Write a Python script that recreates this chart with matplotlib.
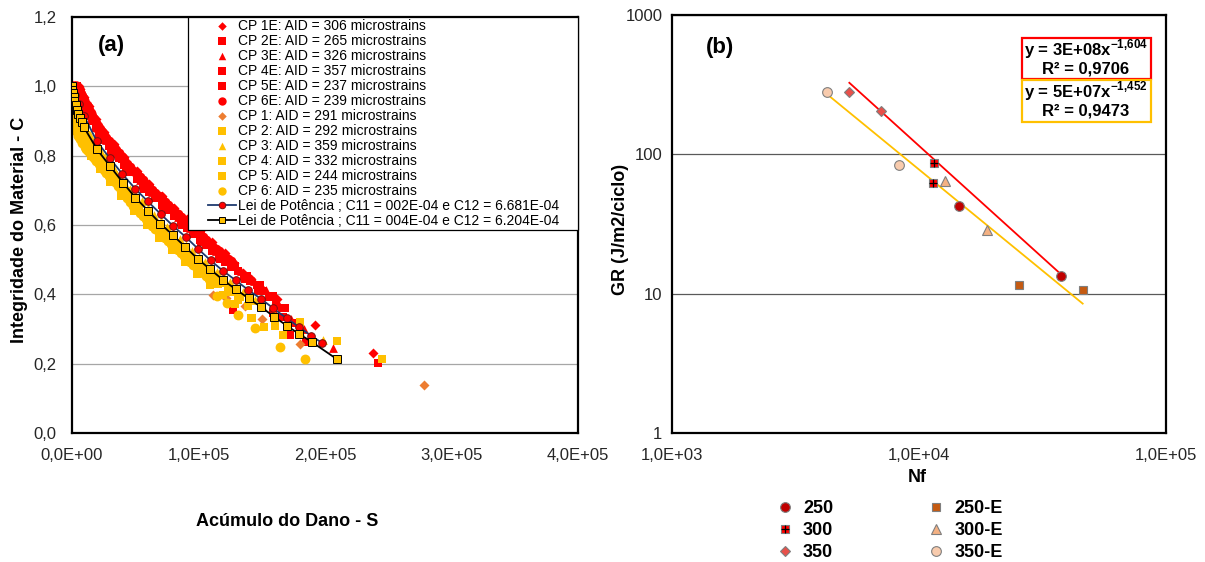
import numpy as np
import matplotlib.pyplot as plt
from matplotlib.lines import Line2D
from matplotlib.patches import Rectangle
from matplotlib.legend_handler import HandlerTuple
from matplotlib.ticker import FixedLocator, FuncFormatter, NullLocator

plt.rcParams['font.family'] = ['Liberation Sans', 'DejaVu Sans']
plt.rcParams['mathtext.fontset'] = 'custom'
plt.rcParams['mathtext.rm'] = 'Liberation Sans'
plt.rcParams['mathtext.bf'] = 'Liberation Sans:bold'

# ---------------- (a) dano acumulado x integridade ----------------
S_cp1e = [0, 2300, 4200, 6500, 9600, 13500, 19000, 25500, 33000, 41500, 51000, 61000, 71000, 81000,
          91000, 101000, 111000, 121000, 128000, 134900, 141300, 148900, 161800, 192100, 238200]
C_cp1e = [1.000, 1.000, 1.000, 0.993, 0.970, 0.942, 0.905, 0.869, 0.834, 0.797, 0.757, 0.719, 0.684, 0.650,
          0.616, 0.583, 0.550, 0.519, 0.490, 0.461, 0.444, 0.422, 0.387, 0.312, 0.230]
S_cp2e = [0, 1500, 3200, 4200, 5300, 6600, 8000, 9700, 11500, 13700, 16000, 19000, 22000, 25500, 29000,
          33000, 37000, 41500, 46000, 51000, 56000, 61000, 66000, 71000, 76000, 81000, 86000, 91000, 96000,
          101000, 106000, 111000, 116000, 121000, 126000, 131000, 136000, 141000, 146000, 151000, 156000,
          161000, 166000, 242100]
C_cp2e = [1.000, 1.000, 0.995, 0.990, 0.980, 0.969, 0.958, 0.944, 0.931, 0.916, 0.900, 0.880, 0.862, 0.844,
          0.827, 0.809, 0.792, 0.772, 0.753, 0.732, 0.714, 0.694, 0.677, 0.659, 0.642, 0.625, 0.608, 0.591,
          0.575, 0.558, 0.541, 0.525, 0.509, 0.494, 0.480, 0.466, 0.452, 0.439, 0.426, 0.410, 0.392, 0.377,
          0.362, 0.203]
S_cp3e = [500, 2800, 5800, 9000, 14500, 20500, 27000, 35000, 43500, 53500, 63500, 73500, 83500, 93500,
          103500, 113500, 123500, 133500, 143500, 153500, 163500, 173500, 183500, 206600]
C_cp3e = [1.000, 1.000, 0.985, 0.958, 0.917, 0.879, 0.845, 0.808, 0.771, 0.731, 0.694, 0.658, 0.624, 0.590,
          0.558, 0.526, 0.495, 0.466, 0.439, 0.413, 0.370, 0.330, 0.300, 0.245]
S_cp4e = [2000, 6000, 12500, 21000, 31000, 43000, 57000, 72000, 87000, 102000, 117000, 127500, 137000,
          147000, 159200, 167000, 172700, 180000, 185300]
C_cp4e = [1.000, 0.969, 0.920, 0.862, 0.813, 0.761, 0.705, 0.651, 0.600, 0.550, 0.501, 0.355, 0.445,
          0.410, 0.345, 0.335, 0.283, 0.292, 0.263]
S_cp5e = [300, 3600, 7200, 12500, 17500, 24000, 31000, 39500, 48500, 58500, 68500, 78500, 88500, 98500,
          108500, 118500, 128500, 138500, 148500, 158500, 168500, 176000]
C_cp5e = [1.000, 1.000, 0.975, 0.935, 0.902, 0.862, 0.826, 0.791, 0.754, 0.714, 0.678, 0.644, 0.610, 0.576,
          0.543, 0.512, 0.482, 0.454, 0.427, 0.395, 0.360, 0.318]
S_cp6e = [0, 800, 1500, 2300, 3200, 4200, 5300, 5900, 6500, 7200, 8000, 8800, 9600, 10500, 11500, 12500,
          13500, 14700, 16000, 17500, 19000, 20500, 22000, 23700, 25500, 27200, 29000, 31000, 33000, 35000,
          37000, 39200, 41500, 43700, 46000, 48500, 51000, 53500, 56000, 58500, 61000, 63500, 66000, 68500,
          71000, 73500, 76000, 78500, 81000, 83500, 86000, 88500, 91000, 93500, 96000, 98500, 101000,
          103500, 106000, 108500, 111000, 113500, 116000, 118500, 121000, 123500, 126000]
C_cp6e = [1.000, 1.000, 1.000, 1.000, 1.000, 1.000, 0.995, 0.990, 0.985, 0.979, 0.973, 0.966, 0.960, 0.953,
          0.946, 0.939, 0.932, 0.924, 0.915, 0.905, 0.895, 0.886, 0.877, 0.868, 0.859, 0.850, 0.842, 0.833,
          0.824, 0.815, 0.807, 0.797, 0.787, 0.777, 0.768, 0.757, 0.747, 0.738, 0.729, 0.719, 0.709, 0.700,
          0.692, 0.683, 0.674, 0.665, 0.657, 0.648, 0.640, 0.631, 0.623, 0.614, 0.606, 0.598, 0.590, 0.581,
          0.573, 0.564, 0.556, 0.548, 0.540, 0.532, 0.524, 0.516, 0.509, 0.502, 0.495]

S_cp1 = [2000, 8000, 16000, 26000, 38000, 52000, 66000, 80000, 94000, 108000, 111700, 122000, 136600,
         150000, 180300, 278300]
C_cp1 = [0.934, 0.873, 0.819, 0.768, 0.712, 0.651, 0.599, 0.550, 0.501, 0.456, 0.398, 0.390, 0.365,
         0.330, 0.257, 0.139]
S_cp2 = [0, 400, 1000, 1800, 2800, 4000, 5400, 7000, 8800, 11000, 13500, 16500, 20000, 24000, 28500,
         33000, 38000, 43000, 48000, 53000, 58000, 63000, 68000, 73000, 78000, 83000, 88000, 93000, 98000,
         103000, 108000, 113000, 118000, 123000, 128000, 133000, 142100, 245200]
C_cp2 = [0.988, 0.975, 0.961, 0.947, 0.933, 0.919, 0.905, 0.890, 0.875, 0.859, 0.843, 0.824, 0.805, 0.785,
         0.764, 0.744, 0.720, 0.698, 0.676, 0.655, 0.636, 0.618, 0.599, 0.582, 0.565, 0.547, 0.530, 0.513,
         0.496, 0.480, 0.464, 0.449, 0.434, 0.420, 0.406, 0.393, 0.331, 0.213]
S_cp3 = [600, 2000, 4000, 6600, 9800, 14000, 19500, 22700, 26000, 29700, 33500, 37500, 41500, 46000,
         50500, 55000, 60000, 65000, 70000, 75000, 80000, 85000, 90000, 95000, 100000, 105000, 110000,
         115000, 120000, 125000, 130000, 135000, 140000, 145000, 150000, 160000, 170000, 180000, 190000,
         198800]
C_cp3 = [0.990, 0.964, 0.939, 0.913, 0.888, 0.860, 0.828, 0.811, 0.796, 0.779, 0.762, 0.742, 0.724, 0.705,
         0.685, 0.668, 0.649, 0.630, 0.612, 0.595, 0.578, 0.560, 0.543, 0.526, 0.509, 0.494, 0.478, 0.463,
         0.448, 0.435, 0.421, 0.408, 0.396, 0.383, 0.370, 0.343, 0.317, 0.293, 0.270, 0.269]
S_cp4 = [1500, 5000, 9500, 15000, 22000, 30000, 39000, 49000, 59000, 69000, 79000, 89000, 99000, 109000,
         119000, 129000, 141700, 151700, 160500, 180200]
C_cp4 = [0.917, 0.876, 0.837, 0.800, 0.762, 0.725, 0.683, 0.639, 0.600, 0.563, 0.528, 0.494, 0.459, 0.428,
         0.398, 0.371, 0.333, 0.307, 0.309, 0.321]
S_cp5 = [200, 1200, 2500, 4500, 7200, 10500, 14500, 19000, 24500, 30500, 37000, 44000, 51500, 59500,
         67500, 75500, 83500, 91500, 99500, 107500, 115500, 123500, 131500, 139000, 167000, 209200]
C_cp5 = [0.968, 0.944, 0.924, 0.901, 0.875, 0.849, 0.823, 0.797, 0.770, 0.742, 0.712, 0.680, 0.648, 0.618,
         0.588, 0.560, 0.532, 0.505, 0.477, 0.453, 0.429, 0.406, 0.384, 0.365, 0.283, 0.266]
S_cp6 = [0, 0, 300, 900, 1800, 3000, 4500, 6200, 8000, 10000, 11200, 12500, 14000, 15500, 17200, 19000,
         21000, 23000, 25000, 27000, 29200, 31500, 33700, 36000, 38500, 41000, 43500, 46000, 48500, 51000,
         53500, 56000, 58500, 61000, 63500, 66000, 68500, 71000, 73500, 76000, 78500, 81000, 83500, 86000,
         88500, 91000, 93500, 96000, 98500, 101000, 103500, 106000, 108500, 111000, 114400, 122300, 131500,
         144700, 164400, 184200]
C_cp6 = [0.960, 0.935, 0.915, 0.898, 0.883, 0.870, 0.858, 0.847, 0.836, 0.826, 0.820, 0.813, 0.807, 0.800,
         0.793, 0.785, 0.777, 0.768, 0.760, 0.751, 0.742, 0.733, 0.723, 0.712, 0.701, 0.689, 0.678, 0.667,
         0.656, 0.645, 0.636, 0.626, 0.617, 0.607, 0.598, 0.589, 0.580, 0.571, 0.563, 0.554, 0.545, 0.536,
         0.528, 0.519, 0.511, 0.502, 0.494, 0.485, 0.477, 0.468, 0.461, 0.453, 0.445, 0.437, 0.396, 0.374,
         0.341, 0.302, 0.249, 0.213]

S_lei1 = [0, 2500, 5500, 9500, 19700, 30000, 39800, 49900, 59900, 70000, 80000, 90000, 99700, 109500,
          119600, 129600, 139500, 149400, 159000, 169600, 179400, 189100, 197300]
C_lei1 = [1.000, 0.975, 0.948, 0.915, 0.841, 0.792, 0.747, 0.705, 0.668, 0.632, 0.597, 0.565, 0.531, 0.498,
          0.467, 0.440, 0.412, 0.387, 0.360, 0.331, 0.306, 0.280, 0.261]
S_lei2 = [0, 300, 700, 1200, 1900, 2800, 3900, 5100, 6300, 7700, 9300, 19800, 30200, 40300, 50100, 60200,
          69900, 79900, 89500, 99500, 109300, 119600, 129600, 139800, 149600, 159600, 169600, 179400,
          189400, 209400]
C_lei2 = [1.000, 0.990, 0.980, 0.969, 0.957, 0.945, 0.932, 0.920, 0.908, 0.896, 0.883, 0.818, 0.769, 0.722,
          0.679, 0.641, 0.604, 0.570, 0.537, 0.502, 0.472, 0.441, 0.414, 0.388, 0.363, 0.336, 0.310, 0.286,
          0.263, 0.213]

# ---------------- (b) Nf x GR ----------------
Nf_250, GR_250 = [14560, 37470], [42.5, 13.3]
Nf_300, GR_300 = [11530, 11360], [87.2, 61.9]
Nf_350, GR_350 = [5224, 7015], [280, 204]
Nf_250E, GR_250E = [25330, 46000], [11.6, 10.7]
Nf_300E, GR_300E = [12740, 18790], [64.3, 28.5]
Nf_350E, GR_350E = [4227, 8318], [278, 83.8]
fit_lab = (3e8, -1.604, 0.9706)
fit_e = (5e7, -1.452, 0.9473)

RED, YEL, ORA = '#FF0000', '#FFC000', '#ED7D31'

W, H = 1205, 562
fig = plt.figure(figsize=(W / 100, H / 100), dpi=100)


def fx(px):
    return px / W


def fy(py):
    return 1 - py / H


ax1 = fig.add_axes([fx(72), fy(433), (578 - 72) / W, (433 - 17) / H])
ax2 = fig.add_axes([fx(672), fy(433), (1166 - 672) / W, (433 - 15) / H])

# --- panel a
scat = [
    (S_cp1e, C_cp1e, 'D', RED, 26, 'CP 1E: AID = 306 microstrains'),
    (S_cp2e, C_cp2e, 's', RED, 38, 'CP 2E: AID = 265 microstrains'),
    (S_cp3e, C_cp3e, '^', RED, 40, 'CP 3E: AID = 326 microstrains'),
    (S_cp4e, C_cp4e, 's', RED, 38, 'CP 4E: AID = 357 microstrains'),
    (S_cp5e, C_cp5e, 's', RED, 38, 'CP 5E: AID = 237 microstrains'),
    (S_cp6e, C_cp6e, 'o', RED, 50, 'CP 6E: AID = 239 microstrains'),
    (S_cp1, C_cp1, 'D', ORA, 26, 'CP 1: AID = 291 microstrains'),
    (S_cp2, C_cp2, 's', YEL, 38, 'CP 2: AID = 292 microstrains'),
    (S_cp3, C_cp3, '^', YEL, 40, 'CP 3: AID = 359 microstrains'),
    (S_cp4, C_cp4, 's', YEL, 38, 'CP 4: AID = 332 microstrains'),
    (S_cp5, C_cp5, 's', YEL, 38, 'CP 5: AID = 244 microstrains'),
    (S_cp6, C_cp6, 'o', YEL, 50, 'CP 6: AID = 235 microstrains'),
]
for S, C, mk, col, sz, lab in scat:
    ax1.scatter(S, C, marker=mk, s=sz, c=col, linewidths=0, label=lab, zorder=2)

ax1.plot(S_lei1, C_lei1, color='#1F3A6E', lw=1.3, marker='o', ms=5.5, mfc=RED, mec='#7A1010',
         mew=0.7, zorder=3, label='Lei de Potência ; C11 = 002E-04 e C12 = 6.681E-04')
ax1.plot(S_lei2, C_lei2, color='black', lw=1.3, marker='s', ms=5.2, mfc=YEL, mec='black',
         mew=0.7, zorder=3, label='Lei de Potência ; C11 = 004E-04 e C12 = 6.204E-04')

ax1.set_xlim(0, 4e5)
ax1.set_ylim(0, 1.2)
ax1.xaxis.set_major_locator(FixedLocator([0, 1e5, 2e5, 3e5, 4e5]))
ax1.yaxis.set_major_locator(FixedLocator(np.arange(0, 1.21, 0.2)))
ax1.xaxis.set_major_formatter(FuncFormatter(lambda v, p: f'{v:.1E}'.replace('.', ',')))
ax1.yaxis.set_major_formatter(FuncFormatter(lambda v, p: f'{v:.1f}'.replace('.', ',')))
ax1.yaxis.grid(True, color='#A6A6A6', lw=0.9)
ax1.set_axisbelow(True)

# --- panel b
for nf, gr, mk, fc, ms in [(Nf_250, GR_250, 'o', '#C00000', 7.0),
                           (Nf_300, GR_300, 's', RED, 6.3),
                           (Nf_350, GR_350, 'D', '#E8504A', 5.2),
                           (Nf_250E, GR_250E, 's', '#C55A11', 6.3),
                           (Nf_300E, GR_300E, '^', '#F4B183', 7.0),
                           (Nf_350E, GR_350E, 'o', '#F8CBAD', 7.0)]:
    ax2.plot(nf, gr, ls='none', marker=mk, ms=ms, mfc=fc, mec='#7F7F7F', mew=0.8, zorder=4)
ax2.plot(Nf_300, GR_300, ls='none', marker='+', ms=6.3, mec='black', mew=0.9, zorder=5)

nf_a = np.geomspace(min(Nf_250 + Nf_300 + Nf_350), max(Nf_250 + Nf_300 + Nf_350), 50)
nf_e = np.geomspace(min(Nf_250E + Nf_300E + Nf_350E), max(Nf_250E + Nf_300E + Nf_350E), 50)
ax2.plot(nf_a, fit_lab[0] * nf_a ** fit_lab[1], color=RED, lw=1.3, zorder=3)
ax2.plot(nf_e, fit_e[0] * nf_e ** fit_e[1], color=YEL, lw=1.3, zorder=3)

ax2.set_xscale('log')
ax2.set_yscale('log')
ax2.set_xlim(1e3, 1e5)
ax2.set_ylim(1, 1000)
ax2.xaxis.set_major_locator(FixedLocator([1e3, 1e4, 1e5]))
ax2.yaxis.set_major_locator(FixedLocator([1, 10, 100, 1000]))
ax2.xaxis.set_minor_locator(NullLocator())
ax2.yaxis.set_minor_locator(NullLocator())
ax2.xaxis.set_major_formatter(FuncFormatter(lambda v, p: f'{v:.1E}'.replace('.', ',')))
ax2.yaxis.set_major_formatter(FuncFormatter(lambda v, p: f'{v:g}'))
ax2.yaxis.grid(True, color='#595959', lw=0.9)
ax2.set_axisbelow(True)

for ax in (ax1, ax2):
    for sp in ax.spines.values():
        sp.set_linewidth(1.6)
        sp.set_color('black')
    ax.tick_params(length=0, labelsize=12, colors='#262626')
ax1.tick_params(axis='y', pad=11)
ax1.tick_params(axis='x', pad=11)
ax2.tick_params(axis='y', pad=7)
ax2.tick_params(axis='x', pad=11)

# legend box of panel a (extends over the full plot width)
fig.add_artist(Rectangle((fx(188), fy(230)), 390 / W, 213 / H, transform=fig.transFigure,
                         facecolor='white', edgecolor='black', lw=0.9, zorder=1))
h1, l1 = ax1.get_legend_handles_labels()
fig.legend(h1, l1, loc='upper left', bbox_to_anchor=(fx(206), fy(17)), frameon=False,
           fontsize=10, handlelength=2.0, handletextpad=0.15, labelspacing=0.07,
           borderpad=0.15, borderaxespad=0, scatterpoints=1, markerscale=0.85)

# equation boxes
for top, bot, col, (a, b, r2) in [(38, 79, RED, fit_lab), (80, 122, YEL, fit_e)]:
    fig.add_artist(Rectangle((fx(1022), fy(bot)), 129 / W, (bot - top) / H, transform=fig.transFigure,
                             facecolor='white', edgecolor=col, lw=1.6, zorder=2))
    coef = f'{a:.0E}'
    expo = f'{b:.3f}'.replace('.', '{,}')
    fig.text(fx(1086), fy(top + 11), f'y = {coef}x' + r'$^{\mathbf{' + expo + '}}$',
             ha='center', va='center', fontsize=12, fontweight='bold', zorder=3)
    fig.text(fx(1086), fy(top + 31), f'R² = {r2:.4f}'.replace('.', ','),
             ha='center', va='center', fontsize=12, fontweight='bold', zorder=3)

# legend of panel b
mk_kw = dict(ls='none', mec='#7F7F7F', mew=0.8)
hb = [Line2D([], [], marker='o', ms=7.0, mfc='#C00000', **mk_kw),
      (Line2D([], [], marker='s', ms=6.3, mfc=RED, **mk_kw),
       Line2D([], [], marker='+', ms=6.3, ls='none', mec='black', mew=0.9)),
      Line2D([], [], marker='D', ms=5.2, mfc='#E8504A', **mk_kw),
      Line2D([], [], marker='s', ms=6.3, mfc='#C55A11', **mk_kw),
      Line2D([], [], marker='^', ms=7.0, mfc='#F4B183', **mk_kw),
      Line2D([], [], marker='o', ms=7.0, mfc='#F8CBAD', **mk_kw)]
lb = ['250', '300', '350', '250-E', '300-E', '350-E']
fig.legend(hb, lb, ncol=2, loc='upper left', bbox_to_anchor=(fx(776), fy(500)), frameon=False,
           prop={'weight': 'bold', 'size': 13}, handlelength=1.0, handletextpad=0.5,
           columnspacing=5.2, labelspacing=0.28, borderpad=0, borderaxespad=0,
           handler_map={tuple: HandlerTuple(ndivide=1)})

# titles
fig.text(fx(20), fy(230), 'Integridade do Material - C', rotation=90, ha='center', va='center',
         fontsize=13, fontweight='bold')
fig.text(fx(287), fy(522), 'Acúmulo do Dano - S', ha='center', va='center', fontsize=13,
         fontweight='bold')
fig.text(fx(621), fy(229), 'GR (J/m2/ciclo)', rotation=90, ha='center', va='center', fontsize=13,
         fontweight='bold')
fig.text(fx(917), fy(478), 'Nf', ha='center', va='center', fontsize=13, fontweight='bold')
fig.text(fx(111), fy(46), '(a)', ha='center', va='center', fontsize=16, fontweight='bold')
fig.text(fx(720), fy(48), '(b)', ha='center', va='center', fontsize=16, fontweight='bold')

fig.savefig('out.png', dpi=100, facecolor='white')
